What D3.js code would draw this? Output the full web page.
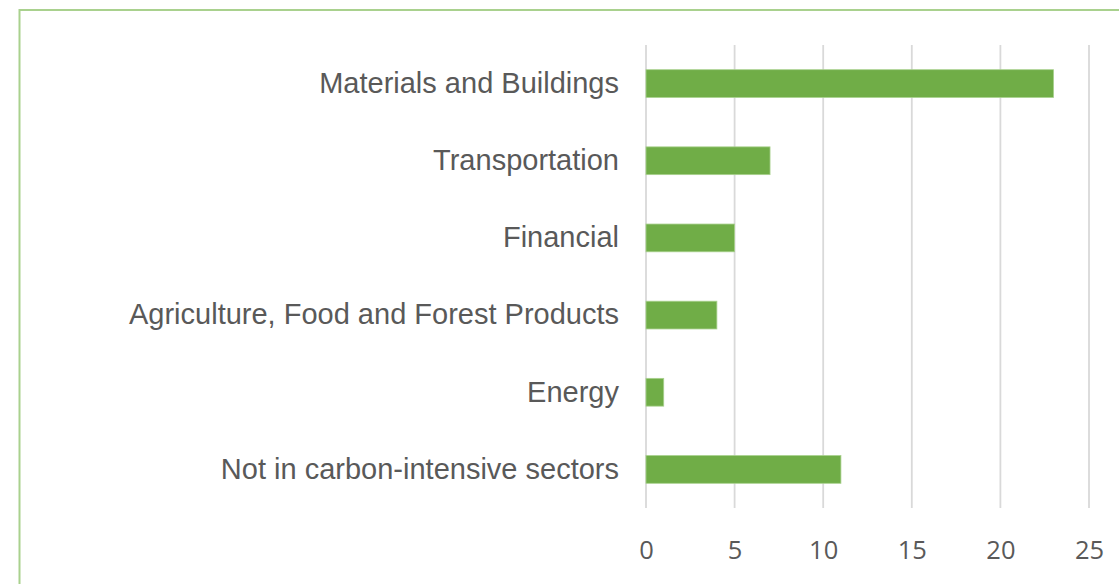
<!DOCTYPE html>
<html>
<head>
<meta charset="utf-8">
<script src="https://cdn.jsdelivr.net/npm/d3@7"></script>
<style>
  html, body { margin: 0; padding: 0; background: #ffffff; }
  svg { display: block; }
</style>
</head>
<body>
<svg id="chart" width="1119" height="584"></svg>
<script>
// Sector breakdown (top to bottom as drawn)
const categories = [
  "Materials and Buildings",
  "Transportation",
  "Financial",
  "Agriculture, Food and Forest Products",
  "Energy",
  "Not in carbon-intensive sectors"
];
const values = [23, 7, 5, 4, 1, 11];
const tickValues = [0, 5, 10, 15, 20, 25];

const svg = d3.select("#chart");
const W = 1119, H = 584;
const plot = { left: 646, right: 1089, top: 45, bottom: 508 };

// Outer frame (only top and left edges fall inside the canvas)
svg.append("path")
  .attr("d", `M19.5,${H} L19.5,10 L${W},10`)
  .attr("fill", "none")
  .attr("stroke", "#a9d18e")
  .attr("stroke-width", 2);

const x = d3.scaleLinear().domain([0, 25]).range([plot.left, plot.right]);
const y = d3.scaleBand().domain(categories).range([plot.top, plot.bottom]).paddingInner(0.64).paddingOuter(0.32);

// Vertical gridlines
svg.append("g")
  .selectAll("line")
  .data(tickValues)
  .join("line")
  .attr("x1", d => x(d)).attr("x2", d => x(d))
  .attr("y1", plot.top).attr("y2", plot.bottom)
  .attr("stroke", "#d9d9d9")
  .attr("stroke-width", 1.8);

// Bars
svg.append("g")
  .selectAll("rect")
  .data(categories)
  .join("rect")
  .attr("x", x(0))
  .attr("y", d => y(d))
  .attr("width", (d, i) => x(values[i]) - x(0))
  .attr("height", y.bandwidth())
  .attr("fill", "#70ad47")
  .attr("stroke", "#a9d18e")
  .attr("stroke-width", 0.8);

// Category labels
const yAxis = d3.axisLeft(y).tickSize(0).tickPadding(27);
svg.append("g")
  .attr("transform", `translate(${plot.left},0)`)
  .call(yAxis)
  .call(g => g.select(".domain").remove())
  .selectAll("text")
  .attr("font-family", "'Liberation Sans', Arial, sans-serif")
  .attr("font-size", 29)
  .attr("fill", "#595959");

// Value axis labels
const xAxis = d3.axisBottom(x).tickValues(tickValues).tickSize(0).tickPadding(0);
svg.append("g")
  .attr("transform", `translate(0,${plot.bottom})`)
  .call(xAxis)
  .call(g => g.select(".domain").remove())
  .selectAll("text")
  .attr("dy", null)
  .attr("y", 51)
  .attr("font-family", "'Open Sans', sans-serif")
  .attr("font-size", 25.5)
  .attr("fill", "#595959");
</script>
</body>
</html>
